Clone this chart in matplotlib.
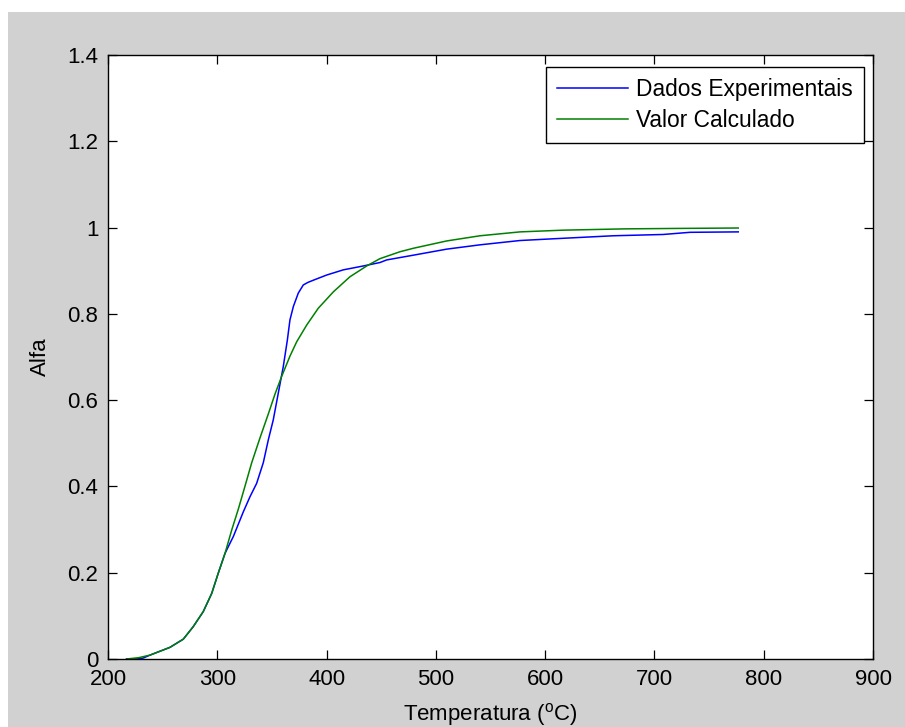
import matplotlib
matplotlib.use("Agg")
import matplotlib.pyplot as plt
from matplotlib.patches import Rectangle

plt.rcParams['font.family'] = ['Liberation Sans', 'DejaVu Sans']
plt.rcParams['mathtext.fontset'] = 'custom'
plt.rcParams['mathtext.rm'] = 'Liberation Sans'

# Experimental data (blue)
exp_temp = [217, 226, 232, 238.4, 256.7, 268.9, 278.0, 287.2, 294.9, 300.9,
            307.1, 314.7, 323.8, 329.9, 336.0, 342.1, 346.7, 351.2, 355.8,
            360.4, 364.1, 366.5, 369.6, 374.1, 378.7, 383, 387.9, 400.1,
            415.3, 433.6, 448.9, 455.0, 479.4, 509.9, 540.4, 577, 607.4,
            662.3, 708, 732.5, 776.7]
exp_alfa = [0.0, 0.0, 0.002, 0.009, 0.027, 0.046, 0.075, 0.110, 0.152, 0.199,
            0.245, 0.284, 0.341, 0.376, 0.407, 0.455, 0.508, 0.554, 0.616,
            0.678, 0.739, 0.786, 0.817, 0.848, 0.867, 0.873, 0.878, 0.890,
            0.902, 0.911, 0.919, 0.925, 0.936, 0.950, 0.960, 0.970, 0.974,
            0.981, 0.984, 0.989, 0.990]

# Calculated values (green)
calc_temp = [217, 228, 238.4, 256.7, 268.9, 278.0, 287.2, 294.9, 300.9, 307.1,
             313.2, 319.2, 325.4, 331.5, 339.0, 346.7, 352.8, 358.9, 366.5,
             372.6, 381.8, 392.4, 406.2, 421.4, 436.7, 448.9, 467.2, 479.4,
             509.9, 540.4, 577, 616.6, 673, 720, 776.7]
calc_alfa = [0.0, 0.003, 0.009, 0.027, 0.046, 0.075, 0.110, 0.152, 0.199,
             0.245, 0.299, 0.347, 0.401, 0.455, 0.512, 0.568, 0.614, 0.655,
             0.702, 0.735, 0.774, 0.813, 0.851, 0.886, 0.911, 0.928, 0.944,
             0.952, 0.969, 0.981, 0.990, 0.994, 0.997, 0.998, 0.999]

series_labels = ['Dados Experimentais', 'Valor Calculado']
x_ticks = [200, 300, 400, 500, 600, 700, 800, 900]
y_ticks = [0, 0.2, 0.4, 0.6, 0.8, 1.0, 1.2, 1.4]
y_ticklabels = ['0', '0.2', '0.4', '0.6', '0.8', '1', '1.2', '1.4']

W, H = 905, 727
fig = plt.figure(figsize=(W / 100, H / 100), dpi=100)
fig.patch.set_facecolor('white')
grey = '#d1d1d1'
fig.patches.append(Rectangle((8 / W, 0), 1 - 8 / W, 1 - 12 / H,
                             transform=fig.transFigure, facecolor=grey,
                             edgecolor='none', zorder=-10))

left, right = 108 / W, 873 / W
bottom, top = (H - 659) / H, (H - 55) / H
ax = fig.add_axes([left, bottom, right - left, top - bottom])
ax.set_facecolor('white')

ax.plot(exp_temp, exp_alfa, color=(0, 0, 1), lw=1.1, label=series_labels[0])
ax.plot(calc_temp, calc_alfa, color=(0, 0.5, 0), lw=1.1, label=series_labels[1])

ax.set_xlim(200, 900)
ax.set_ylim(0, 1.4)
ax.set_xticks(x_ticks)
ax.set_xticklabels([str(v) for v in x_ticks])
ax.set_yticks(y_ticks)
ax.set_yticklabels(y_ticklabels)

ax.tick_params(direction='in', length=6.5, width=0.9, top=True, right=True,
               labelsize=16, colors='black')
ax.tick_params(axis='y', pad=7)
ax.tick_params(axis='x', pad=7)
for s in ax.spines.values():
    s.set_linewidth(1.0)
    s.set_color('black')

ax.set_xlabel(r'Temperatura ($\mathregular{^o}$C)', fontsize=16, labelpad=8)
ax.set_ylabel('Alfa', fontsize=16, labelpad=12)

leg = ax.legend(loc='upper right', bbox_to_anchor=(0.9882, 0.9801),
                borderaxespad=0, fontsize=16.4, frameon=True, fancybox=False,
                framealpha=1, edgecolor='black', handlelength=3.1,
                handletextpad=0.35, borderpad=0.5, labelspacing=0.32)
leg.get_frame().set_linewidth(1.0)

fig.savefig('out.png', dpi=100, facecolor=fig.get_facecolor())
